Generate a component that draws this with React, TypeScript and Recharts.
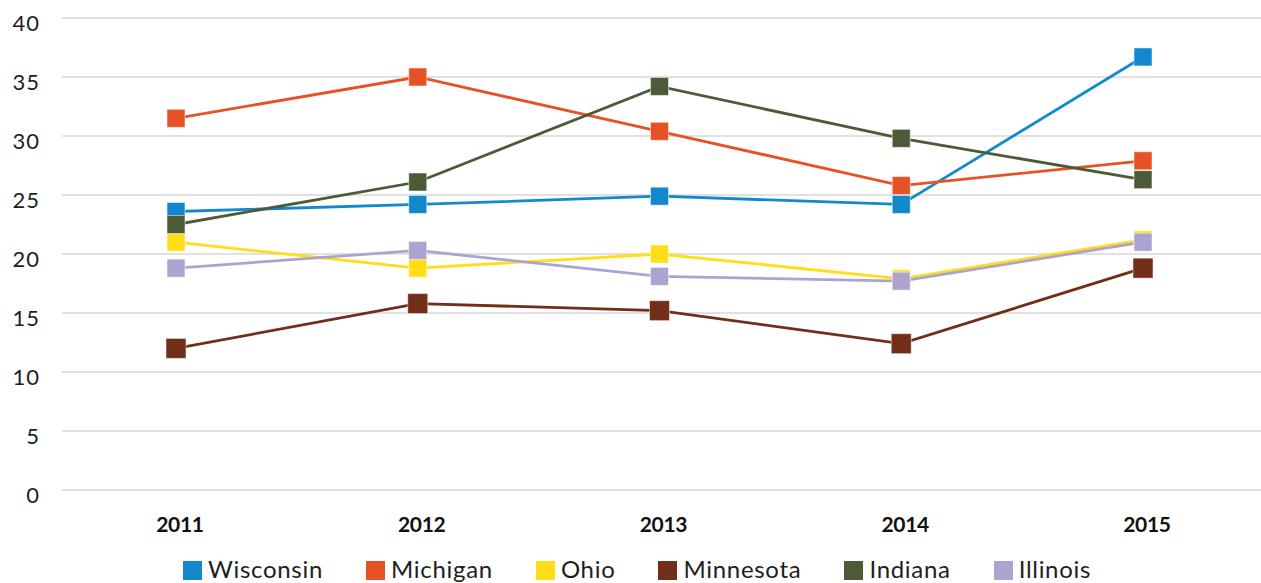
import { LineChart, Line, XAxis, YAxis, CartesianGrid, Legend } from 'recharts';

const years = ['2011', '2012', '2013', '2014', '2015'];
const wisconsin = [23.6, 24.2, 24.9, 24.2, 36.7];
const michigan = [31.5, 35.0, 30.4, 25.8, 27.9];
const ohio = [21.0, 18.8, 20.0, 17.9, 21.2];
const minnesota = [12.0, 15.8, 15.2, 12.4, 18.8];
const indiana = [22.5, 26.1, 34.2, 29.8, 26.3];
const illinois = [18.8, 20.3, 18.1, 17.7, 21.0];
const yTicks = [0, 5, 10, 15, 20, 25, 30, 35, 40];

const series = [
  { key: 'Wisconsin', values: wisconsin, color: '#1289CD', size: 18 },
  { key: 'Michigan', values: michigan, color: '#E65226', size: 18 },
  { key: 'Ohio', values: ohio, color: '#FFDD17', size: 18 },
  { key: 'Minnesota', values: minnesota, color: '#722E18', size: 20 },
  { key: 'Indiana', values: indiana, color: '#4D5A38', size: 18 },
  { key: 'Illinois', values: illinois, color: '#ABA4D1', size: 18 },
];

const data = years.map((year, i) => {
  const row: Record<string, string | number> = { year };
  series.forEach((s) => {
    row[s.key] = s.values[i];
  });
  return row;
});

const FONT = 'Lato, "Open Sans", sans-serif';

// square marker
const squareDot = (color: string, size: number) => (props: any) => {
  const { cx, cy, index } = props;
  if (cx == null || cy == null) return <g key={index} />;
  return (
    <rect
      key={index}
      x={cx - size / 2}
      y={cy - size / 2}
      width={size}
      height={size}
      fill={color}
      stroke="#ffffff"
      strokeOpacity={0.5}
      strokeWidth={1}
    />
  );
};

const YTick = ({ y, payload }: any) => (
  <text
    x={40}
    y={y + 4}
    textAnchor="end"
    dominantBaseline="central"
    fontFamily={FONT}
    fontSize={22}
    letterSpacing={1}
    fill="#1e1e1e"
  >
    {payload.value}
  </text>
);

const XTick = ({ x, payload }: any) => (
  <text
    x={x + 4}
    y={532}
    textAnchor="middle"
    fontFamily={FONT}
    fontSize={21}
    fontWeight={700}
    letterSpacing={-0.3}
    fill="#111111"
  >
    {payload.value}
  </text>
);

const CustomLegend = () => (
  <div
    style={{
      display: 'flex',
      alignItems: 'flex-start',
      paddingLeft: 183,
      paddingTop: 7,
      height: 33,
      boxSizing: 'border-box',
      gap: 43,
    }}
  >
    {series.map((s) => (
      <div key={s.key} style={{ display: 'flex', alignItems: 'flex-start', gap: 6 }}>
        <span
          style={{
            display: 'inline-block',
            width: 19,
            height: 19,
            marginTop: 4,
            background: s.color,
          }}
        />
        <span
          style={{
            fontFamily: FONT,
            fontSize: 24,
            lineHeight: '24px',
            letterSpacing: 0.7,
            color: '#1e1e1e',
            whiteSpace: 'nowrap',
          }}
        >
          {s.key}
        </span>
      </div>
    ))}
  </div>
);

export default function App() {
  return (
    <div style={{ position: 'absolute', left: 0, top: 0, width: 1261, height: 583, background: '#fff', overflow: 'hidden' }}>
      <LineChart
        width={1261}
        height={583}
        data={data}
        margin={{ top: 18, right: 0, left: 0, bottom: 0 }}
      >
        <CartesianGrid vertical={false} stroke="#c4c4c4" strokeWidth={1.2} />
        <XAxis
          dataKey="year"
          scale="point"
          padding={{ left: 114, right: 118 }}
          axisLine={false}
          tickLine={false}
          height={60}
          tick={<XTick />}
        />
        <YAxis
          domain={[0, 40]}
          ticks={yTicks}
          axisLine={false}
          tickLine={false}
          width={62}
          tick={<YTick />}
        />
        <Legend
          verticalAlign="bottom"
          height={33}
          content={<CustomLegend />}
          wrapperStyle={{ left: 0, bottom: 0, width: 1261 }}
        />
        {series.map((s) => (
          <Line
            key={s.key}
            dataKey={s.key}
            stroke={s.color}
            strokeWidth={2.8}
            dot={squareDot(s.color, s.size)}
            activeDot={false}
            isAnimationActive={false}
          />
        ))}
      </LineChart>
    </div>
  );
}
